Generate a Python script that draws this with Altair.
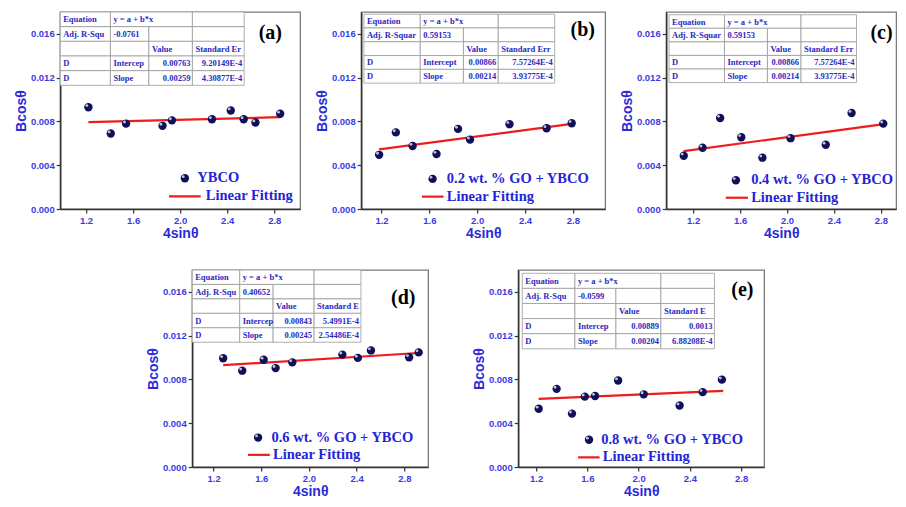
import altair as alt
import pandas as pd

# ---------------- data ----------------
letters = ["(a)", "(b)", "(c)", "(d)", "(e)"]
series_labels = ["YBCO", "0.2 wt. % GO + YBCO", "0.4 wt. % GO + YBCO",
                 "0.6 wt. % GO + YBCO", "0.8 wt. % GO + YBCO"]
fit_label = "Linear Fitting"
x_ticks = [1.2, 1.6, 2.0, 2.4, 2.8]
y_ticks = [0.0, 0.004, 0.008, 0.012, 0.016]

a_x = [1.22, 1.41, 1.54, 1.85, 1.93, 2.27, 2.43, 2.54, 2.64, 2.85]
a_y = [0.0093, 0.0069, 0.0078, 0.0076, 0.0081, 0.0082, 0.0090, 0.0082, 0.0079, 0.0087]
a_fit_x = [1.22, 2.85]
a_fit_y = [0.00794, 0.00839]

b_x = [1.18, 1.32, 1.46, 1.66, 1.84, 1.94, 2.27, 2.58, 2.79]
b_y = [0.00495, 0.0070, 0.00576, 0.00503, 0.00732, 0.00634, 0.00775, 0.00738, 0.00784]
b_fit_x = [1.18, 2.79]
b_fit_y = [0.00544, 0.00778]

c_x = [1.12, 1.28, 1.43, 1.61, 1.79, 2.03, 2.33, 2.55, 2.82]
c_y = [0.00487, 0.0056, 0.00832, 0.00656, 0.00469, 0.00647, 0.00587, 0.00877, 0.0078]
c_fit_x = [1.12, 2.81]
c_fit_y = [0.00529, 0.00774]

d_x = [1.28, 1.44, 1.62, 1.72, 1.86, 2.28, 2.41, 2.52, 2.84, 2.92]
d_y = [0.00994, 0.0088, 0.0098, 0.00904, 0.00956, 0.01027, 0.00997, 0.01065, 0.01003, 0.01047]
d_fit_x = [1.28, 2.95]
d_fit_y = [0.0093, 0.01044]

e_x = [1.22, 1.36, 1.48, 1.58, 1.66, 1.84, 2.04, 2.32, 2.50, 2.65]
e_y = [0.00532, 0.00714, 0.00488, 0.00643, 0.00649, 0.0079, 0.00664, 0.00562, 0.00684, 0.00798]
e_fit_x = [1.22, 2.66]
e_fit_y = [0.00623, 0.00696]

# inset table texts
eq_label = "Equation"
eq_text = "y = a + b*x"
r2_names = ["Adj. R-Squ", "Adj. R-Squar", "Adj. R-Squar", "Adj. R-Squ", "Adj. R-Squ"]
r2_values = ["-0.0761", "0.59153", "0.59153", "0.40652", "-0.0599"]
value_head = "Value"
err_heads = ["Standard Er", "Standard Err", "Standard Err", "Standard E", "Standard E"]
icpt_names = ["Intercep", "Intercept", "Intercept", "Intercep", "Intercep"]
icpt_values = ["0.00763", "0.00866", "0.00866", "0.00843", "0.00889"]
icpt_errs = ["9.20149E-4", "7.57264E-4", "7.57264E-4", "5.4991E-4", "0.0013"]
slope_values = ["0.00259", "0.00214", "0.00214", "0.00245", "0.00204"]
slope_errs = ["4.30877E-4", "3.93775E-4", "3.93775E-4", "2.54486E-4", "6.88208E-4"]

# ---------------- layout (in data units) ----------------
x_domains = [[0.98, 3.02], [1.03, 3.07], [0.97, 2.93], [1.02, 3.0], [1.06, 2.98]]
widths = [240, 244, 230, 236, 246]
H = 197
table_cols = [
    [0.98, 1.407, 1.734, 2.104, 2.544],
    [1.053, 1.524, 1.885, 2.176, 2.648],
    [0.994, 1.467, 1.833, 2.119, 2.592],
    [1.02, 1.419, 1.699, 2.043, 2.436],
    [1.092, 1.503, 1.823, 2.174, 2.592],
]
table_tb = [[0.0180, 0.0113], [0.0178, 0.0115], [0.01775, 0.01155],
            [0.0180, 0.0114], [0.0177, 0.0108]]
leg_point = [[2.04, 0.00281], [1.627, 0.00275], [1.564, 0.00263], [1.573, 0.00269], [1.613, 0.00249]]
leg_text1 = [2.146, 1.746, 1.694, 1.685, 1.708]
leg_line = [[1.905, 2.175, 0.00116], [1.538, 1.719, 0.00113], [1.478, 1.667, 0.00103],
            [1.489, 1.671, 0.00111], [1.528, 1.695, 0.00088]]
leg_text2 = [2.217, 1.746, 1.694, 1.699, 1.72]
letter_pos = [[2.766, 0.0161], [2.883, 0.01635], [2.805, 0.0161], [2.791, 0.0154], [2.81, 0.0162]]

xs_all = [a_x, b_x, c_x, d_x, e_x]
ys_all = [a_y, b_y, c_y, d_y, e_y]
fx_all = [a_fit_x, b_fit_x, c_fit_x, d_fit_x, e_fit_x]
fy_all = [a_fit_y, b_fit_y, c_fit_y, d_fit_y, e_fit_y]

TXT_BLUE = "#2a2ac0"
LEG_BLUE = "#2424d6"
PT = "#10105a"


def panel(i):
    dom = x_domains[i]

    def XQ(f):
        return alt.X(f"{f}:Q", scale=alt.Scale(domain=dom, nice=False, zero=False),
                     axis=alt.Axis(values=x_ticks, format=".1f", title="4sinθ"))

    def YQ(f):
        return alt.Y(f"{f}:Q", scale=alt.Scale(domain=[0, 0.018], nice=False),
                     axis=alt.Axis(values=y_ticks, format=".3f", title="Bcosθ"))

    X = XQ("x")
    Y = YQ("y")

    # table cells
    cols = table_cols[i]
    top, bot = table_tb[i]
    rh = (top - bot) / 5
    ry = [top - k * rh for k in range(6)]
    cells = [
        (0, 0, 1, eq_label, "l"), (0, 1, 3, eq_text, "l"), (0, 3, 4, "", "l"),
        (1, 0, 1, r2_names[i], "l"), (1, 1, 2, r2_values[i], "l"), (1, 2, 3, "", "l"), (1, 3, 4, "", "l"),
        (2, 0, 1, "", "l"), (2, 1, 2, "", "l"), (2, 2, 3, value_head, "l"), (2, 3, 4, err_heads[i], "l"),
        (3, 0, 1, "D", "l"), (3, 1, 2, icpt_names[i], "l"), (3, 2, 3, icpt_values[i], "r"), (3, 3, 4, icpt_errs[i], "r"),
        (4, 0, 1, "D", "l"), (4, 1, 2, "Slope", "l"), (4, 2, 3, slope_values[i], "r"), (4, 3, 4, slope_errs[i], "r"),
    ]
    tdf = pd.DataFrame([{
        "x": cols[c0], "x2": cols[c1], "y": ry[r], "y2": ry[r + 1],
        "xl": cols[c0], "xr": cols[c1], "ym": (ry[r] + ry[r + 1]) / 2,
        "t": t, "al": al} for (r, c0, c1, t, al) in cells])

    rects = alt.Chart(tdf).mark_rect(fill="white", stroke="#9a9a9a", strokeWidth=0.8).encode(
        x=X, x2="x2:Q", y=Y, y2="y2:Q")
    tl = alt.Chart(tdf[tdf.al == "l"]).mark_text(
        align="left", baseline="middle", dx=3, font="Liberation Serif", fontWeight="bold",
        fontSize=8.5, color=TXT_BLUE).encode(x=XQ("xl"), y=YQ("ym"), text="t:N")
    tr = alt.Chart(tdf[tdf.al == "r"]).mark_text(
        align="right", baseline="middle", dx=-2, font="Liberation Serif", fontWeight="bold",
        fontSize=8.5, color=TXT_BLUE).encode(x=XQ("xr"), y=YQ("ym"), text="t:N")

    pts = pd.DataFrame({"x": xs_all[i], "y": ys_all[i]})
    fit = pd.DataFrame({"x": fx_all[i], "y": fy_all[i]})
    line = alt.Chart(fit).mark_line(color="#ee1c1c", strokeWidth=2.2).encode(x=X, y=Y)
    dots = alt.Chart(pts).mark_circle(size=70, color=PT, opacity=1).encode(x=X, y=Y)
    hl = alt.Chart(pts).mark_circle(size=8, color="white", opacity=0.75,
                                    xOffset=-1.6, yOffset=-1.6).encode(x=X, y=Y)

    lp = pd.DataFrame({"x": [leg_point[i][0]], "y": [leg_point[i][1]]})
    ldot = alt.Chart(lp).mark_circle(size=70, color=PT, opacity=1).encode(x=X, y=Y)
    lhl = alt.Chart(lp).mark_circle(size=8, color="white", opacity=0.75,
                                    xOffset=-1.6, yOffset=-1.6).encode(x=X, y=Y)
    ll = pd.DataFrame({"x": [leg_line[i][0]], "x2": [leg_line[i][1]], "y": [leg_line[i][2]]})
    lrule = alt.Chart(ll).mark_rule(color="#ee1c1c", strokeWidth=2.2).encode(x=X, x2="x2:Q", y=Y)
    lt = pd.DataFrame({"x": [leg_text1[i], leg_text2[i]],
                       "y": [leg_point[i][1], leg_line[i][2]],
                       "t": [series_labels[i], fit_label]})
    ltext = alt.Chart(lt).mark_text(align="left", baseline="middle", font="Liberation Serif",
                                    fontWeight="bold", fontSize=14.5, color=LEG_BLUE).encode(
        x=X, y=Y, text="t:N")
    let = pd.DataFrame({"x": [letter_pos[i][0]], "y": [letter_pos[i][1]], "t": [letters[i]]})
    ltr = alt.Chart(let).mark_text(align="center", baseline="middle", font="Liberation Serif",
                                   fontWeight="bold", fontSize=20, color="black").encode(
        x=X, y=Y, text="t:N")

    return alt.layer(rects, tl, tr, line, dots, hl, ldot, lhl, lrule, ltext, ltr).properties(
        width=widths[i], height=H)


row1 = alt.hconcat(panel(0), panel(1), panel(2), spacing=13)
row2 = alt.hconcat(panel(3), panel(4), spacing=42)

chart = alt.vconcat(row1, row2, spacing=26, center=True).properties(
    padding={"left": 5, "top": 2, "right": 0, "bottom": 0},
    background="white",
).configure_view(
    stroke="#7a7a7a", strokeWidth=1.3,
).configure_axis(
    grid=False,
    domainColor="#333333", domainWidth=1.6,
    tickColor="#333333", tickSize=4, tickWidth=1.2,
    labelColor="#3a3ae6", labelFont="Liberation Sans", labelFontWeight="bold",
    labelFontSize=9.5, labelPadding=2,
    titleColor="#2a2ad8", titleFont="Liberation Sans", titleFontWeight="bold",
    titleFontSize=14, titlePadding=2,
)

chart.save("out.html", embed_options={"renderer": "svg", "actions": False})
